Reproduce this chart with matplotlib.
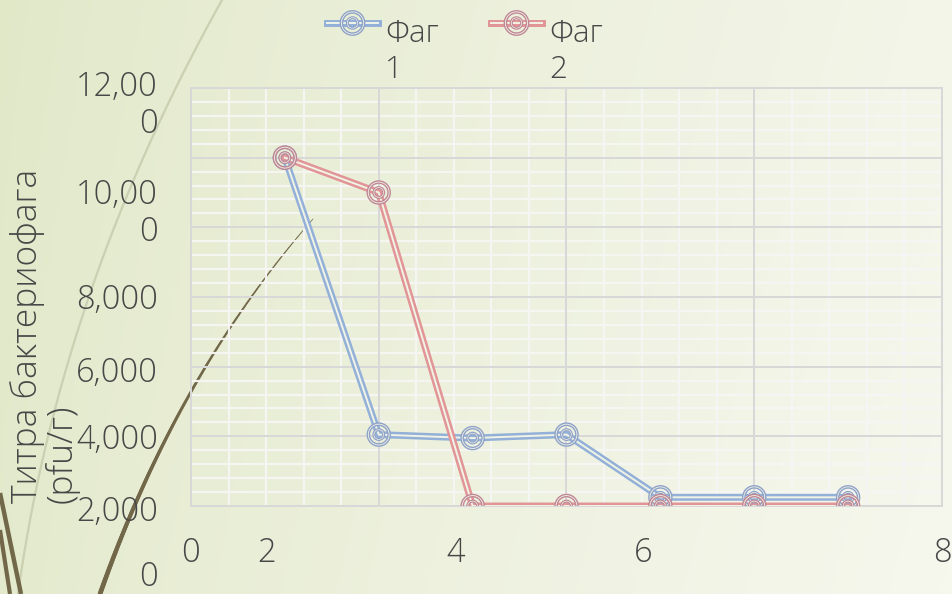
import numpy as np
import matplotlib
matplotlib.use("Agg")
import matplotlib.pyplot as plt
import matplotlib.patheffects as pe
from matplotlib.collections import LineCollection

plt.rcParams['font.family'] = ['Open Sans', 'DejaVu Sans']
plt.rcParams['font.weight'] = 'light'

# ---- data ----
days = [1, 2, 3, 4, 5, 6, 7]
phage1 = [12000, 4050, 3950, 4050, 2250, 2250, 2250]
phage2 = [12000, 11000, 2000, 2000, 2000, 2000, 2000]
series_names = ["Фаг\n1", "Фаг\n2"]
xtick_labels = ["0", "2", "4", "6", "8"]
ytick_labels = ["12,00\n0", "10,00\n0", "8,000", "6,000", "4,000", "2,000", "0"]
ylabel = "Титра бактериофага\n(pfu/г)"

# ---- styling ----
W, H = 953, 594
text_color = "#474747"
line_colors = ["#93b1d8", "#e29596"]
marker_colors = ["#8fa2c8", "#c08896"]
gap_color = "#f1f3e6"
fs = 23.5

fig = plt.figure(figsize=(W / 100, H / 100), dpi=100)

# background layer in pixel coordinates
bg = fig.add_axes([0, 0, 1, 1], zorder=0)
bg.set_xlim(0, W)
bg.set_ylim(H, 0)
bg.axis("off")
gx, gy = np.meshgrid(np.linspace(0, 1, 300), np.linspace(0, 1, 200))
t = np.clip(0.85 * gx ** 0.8 + 0.12 * gy, 0, 1)
c0 = np.array([0.882, 0.910, 0.784])
c1 = np.array([0.968, 0.972, 0.937])
grad = c0[None, None, :] * (1 - t[..., None]) + c1[None, None, :] * t[..., None]
bg.imshow(grad, extent=[0, W, H, 0], aspect="auto", zorder=0)


def bezier(p0, p1, p2, n=200):
    s = np.linspace(0, 1, n)[:, None]
    return (1 - s) ** 2 * np.array(p0) + 2 * s * (1 - s) * np.array(p1) + s ** 2 * np.array(p2)


# thin pale sweep
pts = bezier((222, 0), (60, 290), (18, 594))
bg.plot(pts[:, 0], pts[:, 1], color="#ccd0b2", lw=1.6, zorder=1)

# tapering olive stroke
pts = bezier((100, 594), (177.5, 373.5), (313, 219))
segs = np.stack([pts[:-1], pts[1:]], axis=1)
widths = np.linspace(3.4, 0.5, len(segs))
bg.add_collection(LineCollection(segs, linewidths=widths, colors="#726849", zorder=2,
                                 capstyle="round"))

# heavy strokes in the lower-left corner
for (xa, ya, xb, yb, w) in [(0, 493, 21, 594, 3.2), (0, 530, 10, 594, 3.0)]:
    bg.plot([xa, xb], [ya, yb], color="#726849", lw=w, solid_capstyle="butt", zorder=2)

# ---- plot area ----
ax = fig.add_axes([191 / W, 1 - 506 / H, 751 / W, 418 / H], zorder=1)
ax.patch.set_alpha(0)
ax.set_xlim(0, 8)
ax.set_ylim(2000, 14000)
xmajor = np.arange(0, 8.01, 2)
ymajor = np.arange(2000, 14001, 2000)
ax.set_xticks(xmajor)
ax.set_xticks(np.arange(0, 8.01, 0.4), minor=True)
ax.set_yticks(ymajor)
ax.set_yticks(np.arange(2000, 14001, 400), minor=True)
ax.tick_params(which="both", length=0, labelbottom=False, labelleft=False)
ax.grid(which="minor", color="#f6f6f4", lw=1.6, alpha=0.95)
ax.set_axisbelow(True)
# major grid drawn above the minor grid
for xv in xmajor:
    ax.axvline(xv, color="#d8d8d8", lw=1.4, zorder=1)
for yv in ymajor:
    ax.axhline(yv, color="#d8d8d8", lw=1.4, zorder=1)
for sp in ax.spines.values():
    sp.set_color("#d8d8d8")
    sp.set_linewidth(1.4)


def ring_effect(color, width):
    return [pe.Stroke(linewidth=width, foreground=color), pe.Normal()]


for vals, lc, mc in [(phage1, line_colors[0], marker_colors[0]),
                     (phage2, line_colors[1], marker_colors[1])]:
    ax.plot(days, vals, color=gap_color, lw=1.4, zorder=3,
            path_effects=ring_effect(lc, 5))
    ax.plot(days, vals, ls="none", marker="o", ms=15, mfc="none", mec=gap_color, mew=0.6,
            zorder=4, path_effects=ring_effect(mc, 2.6))
    ax.plot(days, vals, ls="none", marker="o", ms=7, mfc="none", mec=gap_color, mew=0.5,
            zorder=4, path_effects=ring_effect(mc, 2.2))

# axis labels
xtick_pos = [0.0, 0.101, 0.353, 0.602, 1.0]
for xp, lbl in zip(xtick_pos, xtick_labels):
    ax.text(xp, -0.112, lbl, transform=ax.transAxes, ha="center", va="center",
            fontsize=fs, color=text_color, clip_on=False)

ytick_pos = [0.957, 0.699, 0.493, 0.318, 0.158, -0.014, -0.170]
for yp, lbl in zip(ytick_pos, ytick_labels):
    ax.text(-0.044, yp, lbl, transform=ax.transAxes, ha="right", va="center",
            multialignment="right", fontsize=fs, color=text_color, clip_on=False,
            linespacing=1.12)

fig.text(45 / W, 1 - 503 / H, ylabel, rotation=90, ha="center", va="bottom",
         multialignment="left", fontsize=25.5, color=text_color, linespacing=1.0)

# legend
for i, (name, lc, mc) in enumerate(zip(series_names, line_colors, marker_colors)):
    x0 = 327 + i * 164
    bg.plot([x0, x0 + 51], [23, 23], color=gap_color, lw=1.4, zorder=3,
            path_effects=ring_effect(lc, 5))
    bg.plot([x0 + 25.5], [23], ls="none", marker="o", ms=16, mfc="none", mec=gap_color,
            mew=0.6, zorder=4, path_effects=ring_effect(mc, 2.6))
    bg.plot([x0 + 25.5], [23], ls="none", marker="o", ms=7.5, mfc="none", mec=gap_color,
            mew=0.5, zorder=4, path_effects=ring_effect(mc, 2.2))
    bg.text(x0 + 58, 52, name, ha="left", va="center", fontsize=fs - 1, color=text_color,
            linespacing=1.15, zorder=5)

fig.savefig("out.png", dpi=100)
